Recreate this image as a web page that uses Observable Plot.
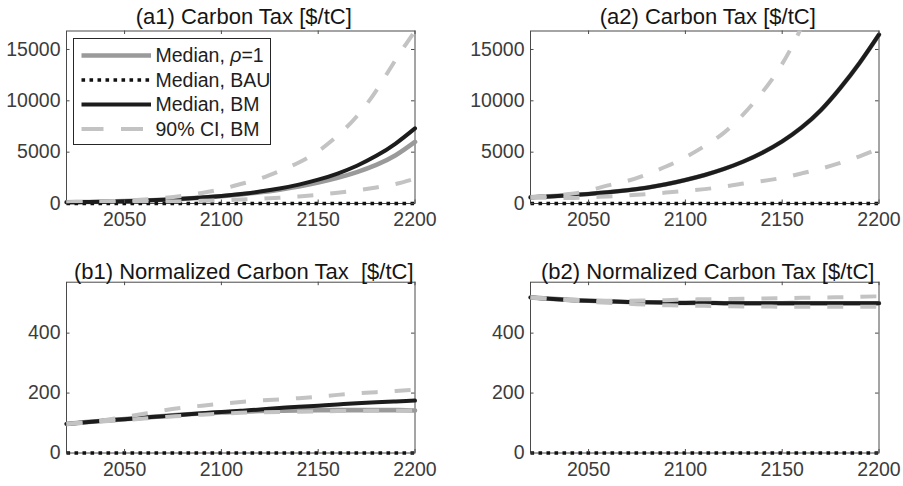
<!DOCTYPE html>
<html><head><meta charset="utf-8">
<script src="https://cdn.jsdelivr.net/npm/d3@7"></script>
<script src="https://cdn.jsdelivr.net/npm/@observablehq/plot@0.6"></script>
<style>
body{margin:0;background:#fff;}
#wrap{position:relative;width:903px;height:486px;overflow:hidden;background:#fff;font-family:"Liberation Sans",Arial,sans-serif;}
.panel{position:absolute;}
#legend{position:absolute;left:72.5px;top:37.5px;width:198px;height:107px;border:1px solid #262626;background:#fff;box-sizing:border-box;}
</style></head><body><div id="wrap"></div>
<script>
// ---- data ----
const years = [2020,2030,2040,2050,2060,2070,2080,2090,2100,2110,2120,2130,2140,2150,2160,2170,2180,2190,2200];
const xTicks = [2050, 2100, 2150, 2200];
const taxTicks = [0, 5000, 10000, 15000];
const normTicks = [0, 200, 400];
const seriesLabels = ["Median, ρ=1", "Median, BAU", "Median, BM", "90% CI, BM"];
const titles = ["(a1) Carbon Tax [$/tC]", "(a2) Carbon Tax [$/tC]", "(b1) Normalized Carbon Tax  [$/tC]", "(b2) Normalized Carbon Tax [$/tC]"];

const a1Rho1 = [115,145,180,230,290,365,455,570,710,880,1090,1350,1660,2040,2500,3060,3760,4700,6000];
const a1Bau  = [0,0,0,0,0,0,0,0,0,0,0,0,0,0,0,0,0,0,0];
const a1Bm   = [115,145,180,230,290,365,460,580,730,920,1160,1460,1840,2320,2920,3680,4640,5840,7320];
const a1Lo   = [105,115,130,145,165,190,220,260,315,380,460,560,690,850,1040,1280,1560,1900,2420];
const a1Hi   = [120,160,215,290,390,540,750,1030,1400,1900,2420,3150,4000,5100,6600,8500,11000,14000,16800];

const a2Rho1 = [600,690,800,930,1090,1290,1540,1870,2290,2780,3370,4090,4970,6050,7400,9100,11250,13700,16450];
const a2Bau  = [0,0,0,0,0,0,0,0,0,0,0,0,0,0,0,0,0,0,0];
const a2Bm   = [600,690,800,930,1090,1290,1540,1870,2290,2780,3370,4090,4970,6050,7400,9100,11250,13700,16450];
const a2Lo   = [590,560,540,600,690,790,920,1060,1220,1400,1650,1950,2200,2500,2930,3400,3950,4600,5350];
const a2Hi   = [600,760,920,1250,1760,2200,2830,3600,4500,5600,6900,8700,10900,13600,17200,21800,27500,34500,43000];

const b1Rho1 = [97,103,108,113,118,123,128,132,135,138,140,141,142,143,143,143,143,143,142];
const b1Bau  = [0,0,0,0,0,0,0,0,0,0,0,0,0,0,0,0,0,0,0];
const b1Bm   = [97,103,108,113,118,123,128,133,137,141,145,150,154,158,162,166,169,172,175];
const b1Lo   = [97,101,106,110,115,120,124,128,131,134,136,137,138,139,140,140,141,141,142];
const b1Hi   = [97,103,110,120,131,142,151,158,164,170,175,179,183,188,194,199,203,207,211];

const b2Rho1 = [519,515,511,508,506,504,503,502,501,501,500,500,500,500,500,500,500,500,500];
const b2Bau  = [0,0,0,0,0,0,0,0,0,0,0,0,0,0,0,0,0,0,0];
const b2Bm   = [519,515,511,508,506,504,503,502,501,501,500,500,500,500,500,500,500,500,500];
const b2Lo   = [519,515,510,505,501,498,495,493,492,491,490,489,489,488,488,488,488,488,488];
const b2Hi   = [519,515,512,509,508,508,509,510,512,513,514,515,516,517,518,519,520,521,523];

// ---- styles ----
const FONT = "'Liberation Sans', Arial, Helvetica, sans-serif";
const C_RHO = "#9a9a9a", C_BAU = "#111111", C_BM = "#1c1c1c", C_CI = "#c3c3c3", C_AX = "#4a4a4a", C_TXT = "#3c3c3c";

function rowsOf(rho, bau, bm, lo, hi) {
  return years.map((y, i) => ({year: y, rho: rho[i], bau: bau[i], bm: bm[i], lo: lo[i], hi: hi[i]}));
}

function panel(cfg) {
  const fw = cfg.width - cfg.ml - cfg.mr;
  const fh = cfg.height - cfg.mt - cfg.mb;
  const rows = rowsOf(...cfg.data);
  const chart = Plot.plot({
    width: cfg.width, height: cfg.height,
    marginTop: cfg.mt, marginBottom: cfg.mb, marginLeft: cfg.ml, marginRight: cfg.mr,
    x: {domain: [2020, 2200], label: null},
    y: {domain: cfg.yDomain, label: null},
    style: {fontFamily: FONT, fontSize: "19.5px", color: C_TXT, background: "transparent", overflow: "visible"},
    marks: [
      Plot.frame({stroke: C_AX, strokeWidth: 1}),
      Plot.line(rows, {x: "year", y: "rho", stroke: C_RHO, strokeWidth: 4.6, curve: "natural"}),
      Plot.line(rows, {x: "year", y: "bau", stroke: C_BAU, strokeWidth: 3.4, strokeDasharray: "3.6,4.4", strokeLinecap: "butt"}),
      Plot.line(rows, {x: "year", y: "bm", stroke: C_BM, strokeWidth: 4, curve: "natural"}),
      Plot.line(rows, {x: "year", y: "lo", stroke: C_CI, strokeWidth: 4, strokeDasharray: "16,17", strokeLinecap: "butt", curve: "natural", clip: true}),
      Plot.line(rows, {x: "year", y: "hi", stroke: C_CI, strokeWidth: 4, strokeDasharray: "16,17", strokeLinecap: "butt", curve: "natural", clip: true}),
      Plot.tickX(xTicks, {x: d => d, insetTop: fh - 3.5, stroke: C_AX}),
      Plot.tickX(xTicks, {x: d => d, insetBottom: fh - 3.5, stroke: C_AX}),
      Plot.tickY(cfg.yTicks, {y: d => d, insetRight: fw - 3.5, stroke: C_AX}),
      Plot.tickY(cfg.yTicks, {y: d => d, insetLeft: fw - 3.5, stroke: C_AX}),
      Plot.axisX({ticks: xTicks, tickFormat: d => String(d), tickSize: 0, tickPadding: 9, label: null, fill: C_TXT}),
      Plot.axisY({ticks: cfg.yTicks, tickFormat: d => String(d), tickSize: 0, tickPadding: 6, label: null, fill: C_TXT}),
      Plot.text([cfg.title], {frameAnchor: "top", text: d => d, dx: 3, dy: cfg.titleDy, fontSize: 22, fill: "#151515", lineAnchor: "middle"})
    ]
  });
  chart.setAttribute("style", (chart.getAttribute("style") || "") + ";white-space:pre;");
  const div = document.createElement("div");
  div.className = "panel";
  div.style.left = cfg.left + "px";
  div.style.top = cfg.top + "px";
  div.appendChild(chart);
  document.getElementById("wrap").appendChild(div);
}

panel({title: titles[0], data: [a1Rho1, a1Bau, a1Bm, a1Lo, a1Hi], yDomain: [0, 16800], yTicks: taxTicks,
  left: 0, top: 0, width: 451, height: 243, ml: 66, mr: 36.5, mt: 30.5, mb: 40, titleDy: -14.5});
panel({title: titles[1], data: [a2Rho1, a2Bau, a2Bm, a2Lo, a2Hi], yDomain: [0, 16800], yTicks: taxTicks,
  left: 464, top: 0, width: 439, height: 243, ml: 66, mr: 24.5, mt: 30.5, mb: 40, titleDy: -14.5});
panel({title: titles[2], data: [b1Rho1, b1Bau, b1Bm, b1Lo, b1Hi], yDomain: [0, 570], yTicks: normTicks,
  left: 0, top: 243, width: 451, height: 243, ml: 66, mr: 36.5, mt: 38.7, mb: 33.5, titleDy: -10.5});
panel({title: titles[3], data: [b2Rho1, b2Bau, b2Bm, b2Lo, b2Hi], yDomain: [0, 570], yTicks: normTicks,
  left: 464, top: 243, width: 439, height: 243, ml: 66, mr: 24.5, mt: 38.7, mb: 33.5, titleDy: -10.5});

// ---- legend for panel a1 ----
const legendStyles = [
  {stroke: C_RHO, width: 4.3, dash: null},
  {stroke: C_BAU, width: 3.4, dash: "3.6,4.4"},
  {stroke: C_BM, width: 4, dash: null},
  {stroke: C_CI, width: 4, dash: "22,17.5"}
];
const leg = document.createElement("div");
leg.id = "legend";
const ns = "http://www.w3.org/2000/svg";
const svg = document.createElementNS(ns, "svg");
svg.setAttribute("width", 196); svg.setAttribute("height", 105);
svg.style.display = "block";
const rowY = [16.5, 41, 65.5, 90];
seriesLabels.forEach((lab, i) => {
  const s = legendStyles[i];
  const ln = document.createElementNS(ns, "line");
  ln.setAttribute("x1", 7.5); ln.setAttribute("x2", 77);
  ln.setAttribute("y1", rowY[i]); ln.setAttribute("y2", rowY[i]);
  ln.setAttribute("stroke", s.stroke); ln.setAttribute("stroke-width", s.width);
  if (s.dash) ln.setAttribute("stroke-dasharray", s.dash);
  svg.appendChild(ln);
  const t = document.createElementNS(ns, "text");
  t.setAttribute("x", 81.5); t.setAttribute("y", rowY[i]);
  t.setAttribute("dy", "0.35em");
  t.setAttribute("font-family", FONT); t.setAttribute("font-size", "19.5px"); t.setAttribute("fill", "#1e1e1e");
  const parts = lab.split("ρ");
  parts.forEach((p, j) => {
    if (j > 0) {
      const it = document.createElementNS(ns, "tspan");
      it.setAttribute("font-style", "italic");
      it.textContent = "ρ";
      t.appendChild(it);
    }
    const sp = document.createElementNS(ns, "tspan");
    sp.textContent = p;
    t.appendChild(sp);
  });
  svg.appendChild(t);
});
leg.appendChild(svg);
document.getElementById("wrap").appendChild(leg);
</script>
</body></html>
